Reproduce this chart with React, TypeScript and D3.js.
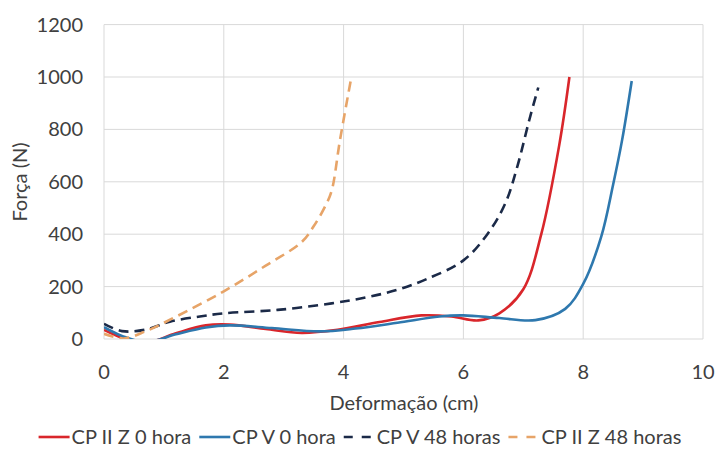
import React, { useEffect, useRef } from "react";
import * as d3 from "d3";

const xTicks = [0, 2, 4, 6, 8, 10];
const yTicks = [0, 200, 400, 600, 800, 1000, 1200];

const cpIIZ0: [number, number][] = [
  [0, 35], [0.3, 5], [0.7, -15], [1.2, 22], [1.7, 52], [2.1, 55], [2.7, 38], [3.3, 23],
  [3.9, 35], [4.6, 65], [5.3, 90], [5.8, 86], [6.25, 71], [6.6, 98], [7.0, 190],
  [7.3, 400], [7.6, 740], [7.77, 1000],
];
const cpV0: [number, number][] = [
  [0, 45], [0.3, 12], [0.7, -12], [1.2, 18], [1.7, 44], [2.1, 52], [2.8, 42], [3.6, 29],
  [4.2, 40], [4.9, 62], [5.6, 86], [6.0, 90], [6.6, 80], [7.2, 72], [7.7, 115], [8.0, 210],
  [8.3, 390], [8.5, 590], [8.65, 760], [8.81, 985],
];
const cpV48: [number, number][] = [
  [0, 58], [0.3, 30], [0.7, 36], [1.1, 66], [1.6, 86], [2.0, 98], [2.9, 111], [3.8, 136],
  [4.4, 160], [4.9, 188], [5.4, 230], [6.0, 300], [6.4, 400], [6.7, 518], [6.9, 658],
  [7.1, 836], [7.25, 960],
];
const cpIIZ48: [number, number][] = [
  [0, 20], [0.33, 2], [0.7, 30], [1.2, 85], [2.0, 182], [2.7, 280], [3.3, 370], [3.5, 430],
  [3.7, 510], [3.8, 565], [3.94, 760], [4.13, 1000],
];

const seriesNames = ["CP II Z 0 hora", "CP V 0 hora", "CP V 48 horas", "CP II Z 48 horas"];
const seriesData = [cpIIZ0, cpV0, cpV48, cpIIZ48];
const seriesColors = ["#D9262B", "#2E78AE", "#1B2A48", "#E7A468"];
const seriesDash = [null, null, "10,6", "10,6"];

export default function App() {
  const ref = useRef<SVGSVGElement>(null);
  useEffect(() => {
    const svg = d3.select(ref.current);
    svg.selectAll("*").remove();
    const left = 104, right = 703, top = 24.6, bottom = 339;
    const x = d3.scaleLinear().domain([0, 10]).range([left, right]);
    const y = d3.scaleLinear().domain([0, 1200]).range([bottom, top]);
    const font = "Lato, 'Open Sans', sans-serif";
    const fs = 20;
    const txt = "#404040";

    svg.append("rect").attr("width", 716).attr("height", 456).attr("fill", "#fff");

    const g = svg.append("g");
    g.selectAll("line.h").data(yTicks).join("line")
      .attr("x1", left).attr("x2", right).attr("y1", d => y(d)).attr("y2", d => y(d))
      .attr("stroke", "#d9d9d9").attr("stroke-width", 1);
    g.selectAll("line.v").data(xTicks).join("line")
      .attr("y1", top).attr("y2", bottom).attr("x1", d => x(d)).attr("x2", d => x(d))
      .attr("stroke", "#d9d9d9").attr("stroke-width", 1);

    g.selectAll("text.yt").data(yTicks).join("text")
      .attr("x", 83).attr("y", d => y(d)).attr("dy", "0.35em").attr("text-anchor", "end")
      .attr("font-family", font).attr("font-size", fs).attr("fill", txt).text(d => d);
    g.selectAll("text.xt").data(xTicks).join("text")
      .attr("x", d => x(d)).attr("y", 372).attr("dy", "0.35em").attr("text-anchor", "middle")
      .attr("font-family", font).attr("font-size", fs).attr("fill", txt).text(d => d);

    g.append("text").attr("x", 404).attr("y", 403).attr("dy", "0.35em").attr("text-anchor", "middle")
      .attr("font-family", font).attr("font-size", fs).attr("fill", txt).text("Deformação (cm)");
    g.append("text").attr("transform", "translate(20,182) rotate(-90)").attr("dy", "0.35em")
      .attr("text-anchor", "middle").attr("font-family", font).attr("font-size", fs)
      .attr("fill", txt).text("Força (N)");

    svg.append("clipPath").attr("id", "plotclip").append("rect")
      .attr("x", left).attr("y", 0).attr("width", right - left).attr("height", bottom);

    const line = d3.line<[number, number]>().x(d => x(d[0])).y(d => y(d[1])).curve(d3.curveCatmullRom.alpha(0.5));
    const lg = svg.append("g").attr("clip-path", "url(#plotclip)");
    seriesData.forEach((data, i) => {
      lg.append("path").attr("d", line(data)).attr("fill", "none")
        .attr("stroke", seriesColors[i]).attr("stroke-width", 2.6)
        .attr("stroke-dasharray", seriesDash[i] as any);
    });

    // legend
    const leg = svg.append("g");
    const temp = seriesNames.map(n =>
      leg.append("text").attr("font-family", font).attr("font-size", fs).attr("fill", txt).text(n)
    );
    const widths = temp.map(t => (t.node() as SVGTextElement).getComputedTextLength());
    const sym = 31, gapSym = 2, gapItem = 8;
    const total = widths.reduce((a, w) => a + sym + gapSym + w, 0) + gapItem * (widths.length - 1);
    let cx = 360 - total / 2;
    const ly = 437;
    temp.forEach((t, i) => {
      leg.append("line").attr("x1", cx).attr("x2", cx + sym).attr("y1", ly).attr("y2", ly)
        .attr("stroke", seriesColors[i]).attr("stroke-width", 2.6)
        .attr("stroke-dasharray", seriesDash[i] ? "9,9" : null as any);
      t.attr("x", cx + sym + gapSym).attr("y", ly).attr("dy", "0.35em");
      cx += sym + gapSym + widths[i] + gapItem;
    });
  }, []);
  return <svg ref={ref} width={716} height={456} style={{ display: "block", position: "absolute", left: 0, top: 0 }} />;
}
